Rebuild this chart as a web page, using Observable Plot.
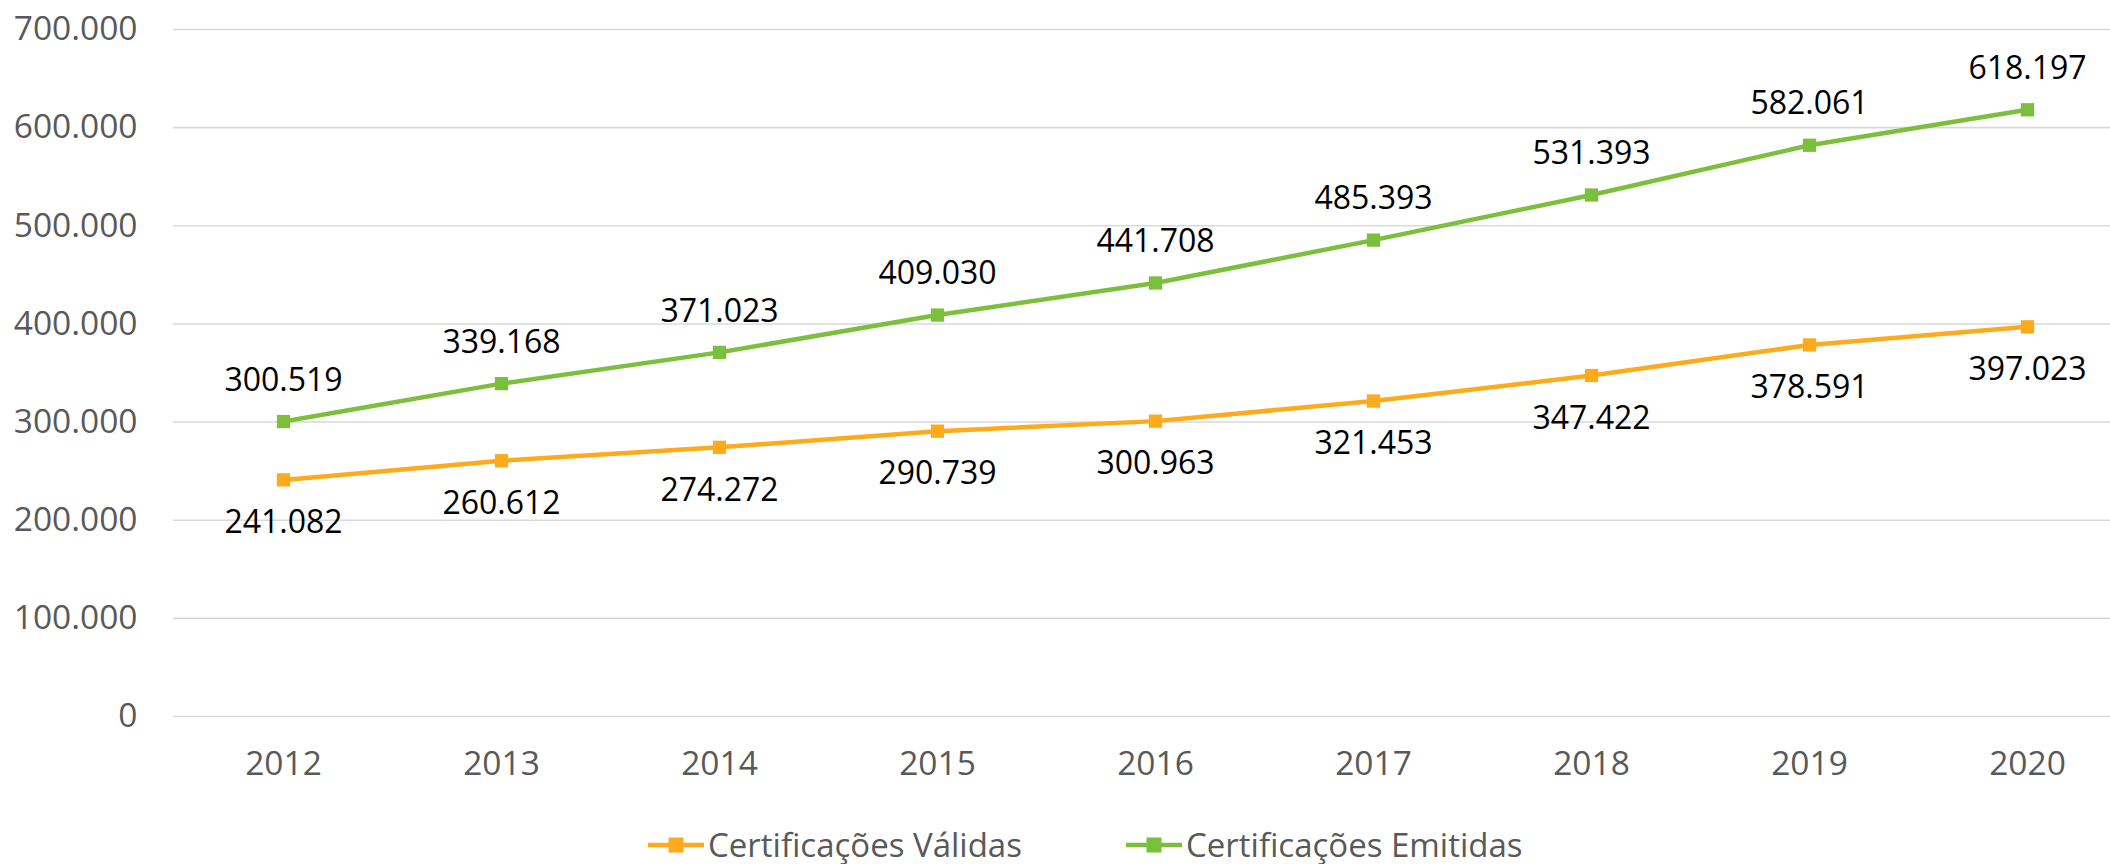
<!DOCTYPE html>
<html>
<head>
<meta charset="utf-8">
<script src="https://cdn.jsdelivr.net/npm/d3@7"></script>
<script src="https://cdn.jsdelivr.net/npm/@observablehq/plot@0.6"></script>
<style>
  html, body { margin: 0; padding: 0; background: #fff; }
  #wrap { position: relative; width: 2110px; height: 864px; font-family: "Open Sans", sans-serif; }
  #legend { position: absolute; left: 0; top: 790px; width: 2110px; height: 74px; }
  .item { position: absolute; top: 32px; display: flex; align-items: center; font-size: 33px; color: #595959; }
  .item svg { margin-right: 4px; }
</style>
</head>
<body>
<div id="wrap">
  <div id="chart"></div>
  <div id="legend"></div>
</div>
<script>
const years = ["2012","2013","2014","2015","2016","2017","2018","2019","2020"];
const validas = [241082, 260612, 274272, 290739, 300963, 321453, 347422, 378591, 397023];
const emitidas = [300519, 339168, 371023, 409030, 441708, 485393, 531393, 582061, 618197];
const seriesNames = ["Certificações Válidas", "Certificações Emitidas"];
const seriesColors = ["#FDAA1D", "#7CBF3C"];
const yTicks = [0, 100000, 200000, 300000, 400000, 500000, 600000, 700000];

const locale = d3.formatLocale({decimal: ",", thousands: ".", grouping: [3], currency: ["", ""]});
const fmt = locale.format(",d");

const data = [];
years.forEach((yr, i) => {
  data.push({year: yr, value: validas[i], series: seriesNames[0]});
});
years.forEach((yr, i) => {
  data.push({year: yr, value: emitidas[i], series: seriesNames[1]});
});
const dV = data.filter(d => d.series === seriesNames[0]);
const dE = data.filter(d => d.series === seriesNames[1]);

const chart = Plot.plot({
  width: 2110,
  height: 790,
  marginLeft: 173,
  marginRight: 0,
  marginTop: 29,
  marginBottom: 74,
  style: {fontFamily: "Open Sans, sans-serif", background: "#fff"},
  x: {type: "point", domain: years, range: [173, 2137], padding: 0.5, label: null},
  y: {domain: [0, 700000], label: null},
  color: {domain: seriesNames, range: seriesColors},
  marks: [
    Plot.gridY(yTicks, {stroke: "#d9d9d9", strokeOpacity: 1, strokeWidth: 1.6}),
    Plot.axisY(yTicks, {tickSize: 0, tickPadding: 36, tickFormat: fmt, fontSize: 33.5, fill: "#595959", label: null}),
    Plot.axisX(years, {tickSize: 0, tickPadding: 35, fontSize: 33.5, fill: "#595959", label: null}),
    Plot.line(data, {x: "year", y: "value", z: "series", stroke: "series", strokeWidth: 4.5}),
    Plot.dot(data, {x: "year", y: "value", fill: "series", symbol: "square", r: 7.5, stroke: null}),
    Plot.text(dE, {x: "year", y: "value", text: d => fmt(d.value), dy: -41, fontSize: 32, fill: "#000"}),
    Plot.text(dV, {x: "year", y: "value", text: d => fmt(d.value), dy: 43, fontSize: 32, fill: "#000"})
  ]
});
document.getElementById("chart").appendChild(chart);

const legend = document.getElementById("legend");
const lefts = [648, 1126];
seriesNames.forEach((name, i) => {
  const item = document.createElement("div");
  item.className = "item";
  item.style.left = lefts[i] + "px";
  item.innerHTML = `<svg width="56" height="20"><line x1="0" y1="10" x2="56" y2="10" stroke="${seriesColors[i]}" stroke-width="4.5"/><rect x="20.5" y="2.5" width="15" height="15" fill="${seriesColors[i]}"/></svg><span>${name}</span>`;
  legend.appendChild(item);
});
</script>
</body>
</html>
